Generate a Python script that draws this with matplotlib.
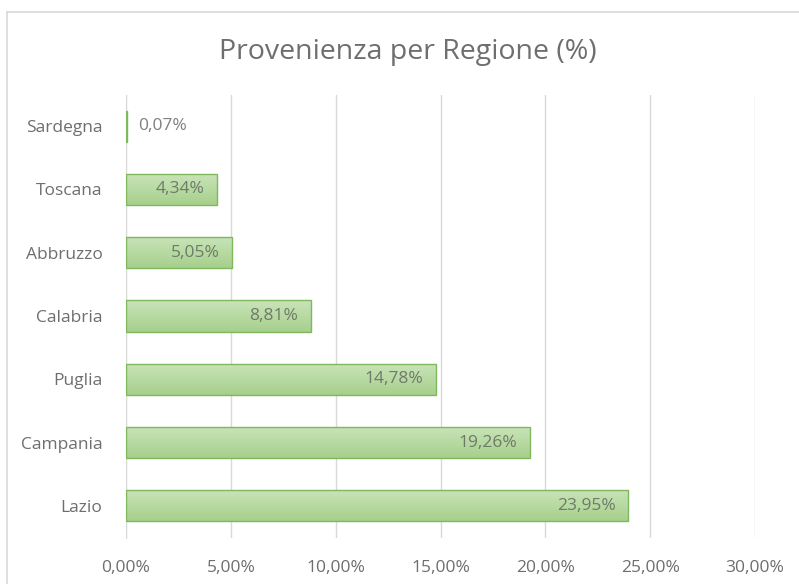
import matplotlib.pyplot as plt
import numpy as np
from matplotlib.lines import Line2D
from matplotlib.colors import LinearSegmentedColormap

plt.rcParams['font.family'] = ['Open Sans', 'DejaVu Sans']

regions = ['Lazio', 'Campania', 'Puglia', 'Calabria', 'Abbruzzo', 'Toscana', 'Sardegna']
values = [23.95, 19.26, 14.78, 8.81, 5.05, 4.34, 0.07]
xticks = [0, 5, 10, 15, 20, 25, 30]

def fmt(v):
    return ('%.2f%%' % v).replace('.', ',')

fig = plt.figure(figsize=(7.99, 5.84), dpi=100)
ax = fig.add_axes([126 / 799, 1 - 537.5 / 584, (755 - 126) / 799, 443 / 584])

ypos = np.arange(len(regions))
bh = 0.49
bars = ax.barh(ypos, values, height=bh, color='none', edgecolor='#7fb85c', linewidth=1.0, zorder=3)

# vertical gradient fill inside each bar
grad = np.linspace(0, 1, 64).reshape(-1, 1)
cmap = LinearSegmentedColormap.from_list('g', ['#a6d08c', '#c9e4b9'])
for b in bars:
    x0, y0 = b.get_x(), b.get_y()
    w, h = b.get_width(), b.get_height()
    im = ax.imshow(grad, cmap=cmap, aspect='auto', extent=[x0, x0 + w, y0, y0 + h],
                   origin='lower', zorder=2)
    im.set_clip_path(b)

for y, v in zip(ypos, values):
    if v < 1:
        ax.text(v + 0.5, y, fmt(v), va='center', ha='left', fontsize=12.5, color='#7f7f7f', zorder=4)
    else:
        ax.text(v - 0.6, y, fmt(v), va='center', ha='right', fontsize=12.5, color='#6f7a68', zorder=4)

ax.set_xlim(0, 30)
ax.set_ylim(-0.5, len(regions) - 0.5)
ax.set_xticks(xticks)
ax.set_xticklabels([fmt(t) for t in xticks])
ax.set_yticks(ypos)
ax.set_yticklabels(regions)
ax.tick_params(axis='both', length=0, labelsize=12.5, labelcolor='#6e6e6e')
ax.tick_params(axis='x', pad=16)
ax.tick_params(axis='y', pad=17)
ax.grid(axis='x', color='#d9d9d9', linewidth=1.0, zorder=0)
ax.set_axisbelow(True)
for s in ['top', 'right', 'bottom']:
    ax.spines[s].set_visible(False)
ax.spines['left'].set_color('#d9d9d9')

fig.text(408 / 799, 1 - 52 / 584, 'Provenienza per Regione (%)', ha='center', va='center',
         fontsize=20.5, color='#6e6e6e')

# chart border
fig.add_artist(Line2D([7 / 799, 1], [1 - 12 / 584, 1 - 12 / 584], color='#d9d9d9', lw=1.2))
fig.add_artist(Line2D([7 / 799, 7 / 799], [0, 1 - 12 / 584], color='#d9d9d9', lw=1.2))

fig.savefig('out.png', dpi=100)
